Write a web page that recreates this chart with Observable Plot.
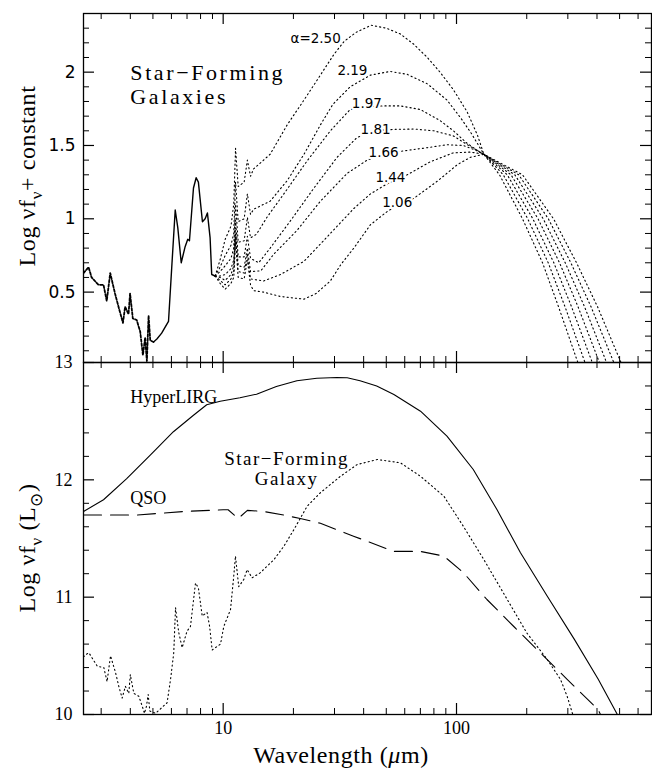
<!DOCTYPE html>
<html>
<head>
<meta charset="utf-8">
<script src="https://cdn.jsdelivr.net/npm/d3@7"></script>
<script src="https://cdn.jsdelivr.net/npm/@observablehq/plot@0.6"></script>
<style>
  body { margin: 0; background: #fff; }
  #chart { position: relative; width: 652px; height: 770px; background: #fff; }
  #chart svg { position: absolute; left: 0; overflow: visible; }
</style>
</head>
<body>
<div id="chart"></div>
<script>
// ---------------------------------------------------------------
// Wavelength range shared by both panels (microns)
const xDomain = [2.52, 685];

// ---------- Top panel: star-forming templates, log(nu f_nu) + const
// near/mid-IR part common to every template
const commonWave = [2.52, 2.65, 2.73, 2.92, 3.07, 3.17, 3.28, 3.44, 3.56, 3.72, 3.80, 3.93, 3.99, 4.10, 4.26, 4.41, 4.53, 4.63, 4.71, 4.79, 4.87, 5.03, 5.20, 5.45, 5.83, 6.02, 6.23, 6.39, 6.61, 6.87, 7.05, 7.17, 7.46, 7.66, 7.83, 8.15, 8.37, 8.56, 8.79, 8.93, 9.24];
const commonLogF = [0.63, 0.67, 0.60, 0.55, 0.55, 0.44, 0.63, 0.49, 0.40, 0.29, 0.40, 0.35, 0.49, 0.32, 0.31, 0.23, 0.07, 0.19, 0.03, 0.34, 0.17, 0.16, 0.18, 0.22, 0.30, 0.67, 1.06, 0.94, 0.70, 0.81, 0.86, 0.85, 1.21, 1.28, 1.25, 0.98, 1.00, 1.04, 0.87, 0.62, 0.61];

// template labels (alpha of the dust distribution)
const alphaLabels = ["α=2.50", "2.19", "1.97", "1.81", "1.66", "1.44", "1.06"];

const wave250 = [9.24, 9.7, 10.2, 10.8, 11.1, 11.3, 11.6, 12.3, 12.7, 13.1, 13.5, 15.9, 18.8, 22.2, 26.1, 29.8, 33, 37, 43, 50, 57.5, 65.6, 75, 85, 97, 111, 123, 131, 152.9, 191.8, 233.7, 273.7, 334.4];
const logf250 = [0.61, 0.72, 0.86, 0.95, 1.10, 1.48, 1.22, 1.25, 1.40, 1.29, 1.34, 1.44, 1.64, 1.81, 1.98, 2.12, 2.21, 2.27, 2.32, 2.30, 2.26, 2.19, 2.10, 2.00, 1.88, 1.73, 1.57, 1.44, 1.30, 1.00, 0.70, 0.40, 0.00];

const wave219 = [9.24, 9.7, 10.2, 10.8, 11.1, 11.3, 11.6, 12.3, 12.7, 13.1, 13.5, 15.9, 18.8, 22.2, 26.1, 29.5, 35, 42.8, 52, 61.5, 75, 91, 104, 116, 131, 158.7, 202, 247.2, 291.8, 359.1];
const logf219 = [0.61, 0.67, 0.75, 0.82, 0.90, 1.25, 0.98, 1.00, 1.17, 1.03, 1.065, 1.12, 1.26, 1.44, 1.64, 1.78, 1.90, 1.98, 2.005, 1.985, 1.92, 1.81, 1.69, 1.58, 1.44, 1.30, 1.00, 0.70, 0.40, 0.00];

const wave197 = [9.24, 9.7, 10.2, 10.8, 11.1, 11.3, 11.6, 12.3, 12.7, 13.1, 13.9, 15.4, 18.2, 22.9, 28.8, 35, 42, 48.8, 57.5, 70, 85, 97, 110, 123, 131, 165, 212.4, 261.3, 311.2, 385.9];
const logf197 = [0.61, 0.64, 0.68, 0.73, 0.80, 1.10, 0.84, 0.85, 1.01, 0.87, 0.895, 1.01, 1.17, 1.395, 1.60, 1.745, 1.765, 1.77, 1.77, 1.745, 1.67, 1.60, 1.52, 1.465, 1.44, 1.30, 1.00, 0.70, 0.40, 0.00];

const wave181 = [9.24, 9.7, 10.2, 10.8, 11.1, 11.3, 11.6, 12.3, 12.7, 13.1, 14.2, 15.9, 19.4, 24.5, 30.8, 37.5, 45, 54, 66, 80, 97, 110, 120, 131, 171.3, 223.6, 276.4, 331.8, 414.3];
const logf181 = [0.61, 0.61, 0.62, 0.66, 0.72, 0.99, 0.74, 0.74, 0.88, 0.73, 0.70, 0.80, 0.985, 1.21, 1.42, 1.555, 1.60, 1.61, 1.612, 1.60, 1.565, 1.51, 1.475, 1.44, 1.30, 1.00, 0.70, 0.40, 0.00];

const wave166 = [9.24, 9.7, 10.2, 10.8, 11.1, 11.3, 11.6, 12.3, 12.7, 13.1, 14.5, 16.5, 20.7, 26.1, 34, 41.4, 48, 57.5, 75, 91, 107, 120, 131, 177.8, 235.3, 292.4, 353.8, 444.7];
const logf166 = [0.61, 0.60, 0.58, 0.62, 0.68, 0.92, 0.68, 0.67, 0.80, 0.64, 0.645, 0.76, 0.92, 1.12, 1.31, 1.40, 1.44, 1.46, 1.485, 1.505, 1.50, 1.47, 1.44, 1.30, 1.00, 0.70, 0.40, 0.00];

const wave144 = [9.24, 9.7, 10.2, 10.8, 11.1, 11.3, 11.6, 12.3, 12.7, 13.1, 14.9, 17.6, 22.2, 28.8, 36.3, 42.8, 50, 61.5, 77.4, 97, 115, 131, 184.8, 247.5, 309, 377.2, 477.9];
const logf144 = [0.61, 0.58, 0.55, 0.59, 0.64, 0.88, 0.64, 0.63, 0.76, 0.59, 0.576, 0.62, 0.71, 0.90, 1.07, 1.17, 1.235, 1.30, 1.39, 1.45, 1.455, 1.44, 1.30, 1.00, 0.70, 0.40, 0.00];

const wave106 = [9.24, 9.7, 10.2, 10.8, 11.1, 11.3, 11.6, 12.3, 12.7, 13.1, 13.5, 14.9, 17.6, 22.2, 25, 28.8, 32, 36.3, 42.8, 50.5, 57, 65.7, 82.7, 101, 115, 131, 191.8, 260.5, 326.9, 402.2, 513.2];
const logf106 = [0.61, 0.56, 0.52, 0.56, 0.60, 0.84, 0.60, 0.59, 0.72, 0.55, 0.51, 0.50, 0.47, 0.452, 0.49, 0.576, 0.69, 0.80, 0.96, 1.05, 1.10, 1.14, 1.256, 1.37, 1.42, 1.44, 1.30, 1.00, 0.70, 0.40, 0.00];

const templateWaves = [wave250, wave219, wave197, wave181, wave166, wave144, wave106];
const templateLogF = [logf250, logf219, logf197, logf181, logf166, logf144, logf106];

// ---------- Bottom panel: log(nu f_nu) in solar luminosities
const hyperWave = [2.52, 3.07, 3.86, 4.87, 6.12, 7.46, 8.50, 9.71, 11.8, 13.9, 16.9, 20.7, 25.2, 30.7, 34, 38.6, 45.5, 53.9, 70.1, 91, 118, 149, 188, 245, 320, 405, 489];
const hyperLogL = [11.73, 11.83, 12.01, 12.21, 12.41, 12.55, 12.64, 12.67, 12.70, 12.73, 12.795, 12.845, 12.866, 12.872, 12.87, 12.845, 12.80, 12.727, 12.585, 12.372, 12.088, 11.747, 11.378, 11.008, 10.64, 10.30, 10.0];

const qsoWave = [2.52, 4.26, 6.77, 10.0, 10.5, 11.6, 12.7, 14.9, 18.2, 21.4, 26.1, 36.2, 53.9, 70.1, 88.3, 107, 135, 176, 229, 298, 405, 414];
const qsoLogL = [11.70, 11.70, 11.73, 11.745, 11.745, 11.67, 11.74, 11.73, 11.70, 11.67, 11.63, 11.52, 11.39, 11.39, 11.35, 11.21, 10.98, 10.75, 10.525, 10.30, 10.04, 10.0];

const sfgWave = [2.52, 2.57, 2.66, 2.89, 3.08, 3.18, 3.29, 3.46, 3.57, 3.69, 3.81, 3.94, 4.0, 4.14, 4.35, 4.5, 4.6, 4.69, 4.77, 4.85, 5.13, 5.75, 5.95, 6.14, 6.25, 6.45, 6.67, 7.0, 7.24, 7.61, 7.83, 8.13, 8.53, 8.75, 8.97, 9.74, 10.06, 10.75, 11.1, 11.29, 11.66, 12.25, 12.67, 13.3, 14.4, 16.5, 18.2, 20.1, 22.9, 26.1, 31.8, 37.5, 45.8, 57.5, 70.1, 88.3, 107, 131, 165, 200, 245, 279, 298, 315];
const sfgLogL = [10.49, 10.51, 10.525, 10.41, 10.40, 10.28, 10.50, 10.355, 10.24, 10.14, 10.24, 10.18, 10.34, 10.18, 10.155, 10.07, 10.01, 10.07, 10.17, 10.03, 10.01, 10.10, 10.30, 10.525, 10.91, 10.70, 10.57, 10.71, 10.75, 11.12, 11.08, 10.84, 10.87, 10.75, 10.55, 10.60, 10.75, 10.894, 11.18, 11.35, 11.09, 11.15, 11.235, 11.165, 11.207, 11.32, 11.434, 11.576, 11.775, 11.89, 12.03, 12.13, 12.173, 12.145, 12.03, 11.86, 11.604, 11.32, 10.98, 10.696, 10.468, 10.30, 10.155, 10.0];

// tick values
const xMajor = [10, 100];
const xMinor = [3, 4, 5, 6, 7, 8, 9, 20, 30, 40, 50, 60, 70, 80, 90, 200, 300, 400, 500, 600];
const topMajor = [0.5, 1, 1.5, 2];
const topMinor = d3.range(1, 24).map(i => i / 10).filter(v => !topMajor.includes(v));
const botMajor = [10, 11, 12, 13];
const botMinor = d3.range(51, 65).map(i => i / 5).filter(v => !Number.isInteger(v));

// ---------------------------------------------------------------
const W = 652, ML = 83, MR = 1;
const innerW = W - ML - MR;
const serif = "'Liberation Serif', 'Times New Roman', serif";
const sans = "'DejaVu Sans', sans-serif";

const rows = (waves, vals, extra = {}) => waves.map((w, i) => ({w, v: vals[i], ...extra}));

// inward-pointing ticks on all four sides of a panel
function boxTicks(innerH, yMaj, yMin) {
  const big = 11, small = 6;
  return [
    Plot.tickX(xMinor, {x: d => d, insetBottom: innerH - small, strokeWidth: 1}),
    Plot.tickX(xMinor, {x: d => d, insetTop: innerH - small, strokeWidth: 1}),
    Plot.tickX(xMajor, {x: d => d, insetBottom: innerH - big, strokeWidth: 1.2}),
    Plot.tickX(xMajor, {x: d => d, insetTop: innerH - big, strokeWidth: 1.2}),
    Plot.tickY(yMin, {y: d => d, insetRight: innerW - small, strokeWidth: 1}),
    Plot.tickY(yMin, {y: d => d, insetLeft: innerW - small, strokeWidth: 1}),
    Plot.tickY(yMaj, {y: d => d, insetRight: innerW - big, strokeWidth: 1.2}),
    Plot.tickY(yMaj, {y: d => d, insetLeft: innerW - big, strokeWidth: 1.2})
  ];
}

const baseStyle = {fontFamily: serif, fontSize: "18px", background: "none", overflow: "visible", color: "#000"};

// ----- top panel
const common = rows(commonWave, commonLogF);
const nearIR = common.filter(d => d.w <= 5.03);
const midIR = common.filter(d => d.w >= 5.03);
const templates = templateWaves.flatMap((ws, k) => rows(ws, templateLogF[k], {alpha: alphaLabels[k]}));

// where each alpha label sits along its curve
const labelWave = [24.9, 35.8, 41.3, 45.0, 48.7, 52.1, 55.7];
const labelLogF = [2.225, 2.007, 1.782, 1.611, 1.452, 1.281, 1.111];

const topH = 362, topMT = 13, topMB = 0;
const topPlot = Plot.plot({
  width: W, height: topH,
  marginLeft: ML, marginRight: MR, marginTop: topMT, marginBottom: topMB,
  style: baseStyle,
  x: {type: "log", domain: xDomain, axis: null},
  y: {domain: [0.02, 2.4]},
  marks: [
    Plot.line(nearIR, {x: "w", y: "v", stroke: "#000", strokeWidth: 1.8, strokeDasharray: "2.5,1.8", clip: true}),
    Plot.line(midIR, {x: "w", y: "v", stroke: "#000", strokeWidth: 1.4, clip: true}),
    Plot.line(templates, {x: "w", y: "v", z: "alpha", stroke: "#000", strokeWidth: 1.1, strokeDasharray: "1.2,3", clip: true}),
    Plot.text(alphaLabels, {x: labelWave, y: labelLogF, text: d => d, fontSize: 13.5, fontFamily: sans, fill: "#000", stroke: "#fff", strokeWidth: 4, paintOrder: "stroke"}),
    Plot.text(["Star−Forming\nGalaxies"], {x: [4.0], y: [1.916], textAnchor: "start", fontSize: 22, lineHeight: 1.06, fill: "#000"}),
    ...boxTicks(topH - topMT - topMB, topMajor, topMinor),
    Plot.axisY(topMajor, {tickSize: 0, tickPadding: 8, tickFormat: d => String(d), label: null, fontSize: 17, fontFamily: sans}),
    Plot.frame({stroke: "#000", strokeWidth: 1.3})
  ]
});

// ----- bottom panel
const botH = 418, botMT = 10, botMB = 56;
const botPlot = Plot.plot({
  width: W, height: botH,
  marginLeft: ML, marginRight: MR, marginTop: botMT, marginBottom: botMB,
  style: baseStyle,
  x: {type: "log", domain: xDomain},
  y: {domain: [10, 13]},
  marks: [
    Plot.line(rows(hyperWave, hyperLogL), {x: "w", y: "v", stroke: "#000", strokeWidth: 1.1, clip: true}),
    Plot.line(rows(qsoWave, qsoLogL), {x: "w", y: "v", stroke: "#000", strokeWidth: 1.1, strokeDasharray: "18,9", clip: true}),
    Plot.line(rows(sfgWave, sfgLogL), {x: "w", y: "v", stroke: "#000", strokeWidth: 1.1, strokeDasharray: "1.2,3", clip: true}),
    Plot.text(["HyperLIRG"], {x: [4.0], y: [12.70], textAnchor: "start", fontSize: 18, fill: "#000"}),
    Plot.text(["QSO"], {x: [4.0], y: [11.843], textAnchor: "start", fontSize: 18, fill: "#000"}),
    Plot.text(["Star−Forming\nGalaxy"], {x: [18.7], y: [12.096], fontSize: 19, lineHeight: 1.08, fill: "#000"}),
    ...boxTicks(botH - botMT - botMB, botMajor, botMinor),
    Plot.axisX(xMajor, {tickSize: 0, tickPadding: 7, tickFormat: d => String(d), label: null, fontSize: 18}),
    Plot.axisY(botMajor, {tickSize: 0, tickPadding: 11, tickFormat: d => String(d), label: null, fontSize: 18}),
    Plot.frame({stroke: "#000", strokeWidth: 1.3})
  ]
});

// axis titles with subscripted / italic parts
function addTitle(svg, x, y, rotate, parts, size = 24) {
  const t = d3.select(svg).append("text")
    .attr("transform", `translate(${x},${y})` + (rotate ? " rotate(-90)" : ""))
    .attr("text-anchor", "middle")
    .attr("font-family", serif)
    .attr("font-size", size)
    .attr("letter-spacing", "0.6px")
    .attr("fill", "#000");
  const shift = Math.round(size * 0.3);
  let down = false;
  for (const [s, kind] of parts) {
    const sp = t.append("tspan").text(s);
    if (kind === "sub") {
      sp.attr("font-size", Math.round(size * 0.7)).attr("dy", shift);
      down = true;
    } else {
      if (down) { sp.attr("dy", -shift); down = false; }
      if (kind === "it") sp.attr("font-style", "italic");
    }
  }
}

const chart = document.getElementById("chart");
topPlot.style.top = "0px";
botPlot.style.top = (362 - botMT) + "px";
chart.appendChild(topPlot);
chart.appendChild(botPlot);

// the wide lettering of the in-panel captions
d3.select(topPlot).selectAll("text").filter(function() { return this.textContent.includes("Forming"); })
  .attr("letter-spacing", "2.6px");
d3.select(botPlot).selectAll("text").filter(function() { return this.textContent.includes("Forming"); })
  .attr("letter-spacing", "1.5px");

addTitle(topPlot, 35, 176, true, [["Log νf"], ["ν", "sub"], ["+ constant"]]);
addTitle(botPlot, 35, 548 - (362 - botMT), true, [["Log νf"], ["ν", "sub"], [" (L"], ["⊙", "sub"], [")"]]);
addTitle(botPlot, 341, 763 - (362 - botMT), false, [["Wavelength ("], ["μ", "it"], ["m)"]]);
</script>
</body>
</html>
